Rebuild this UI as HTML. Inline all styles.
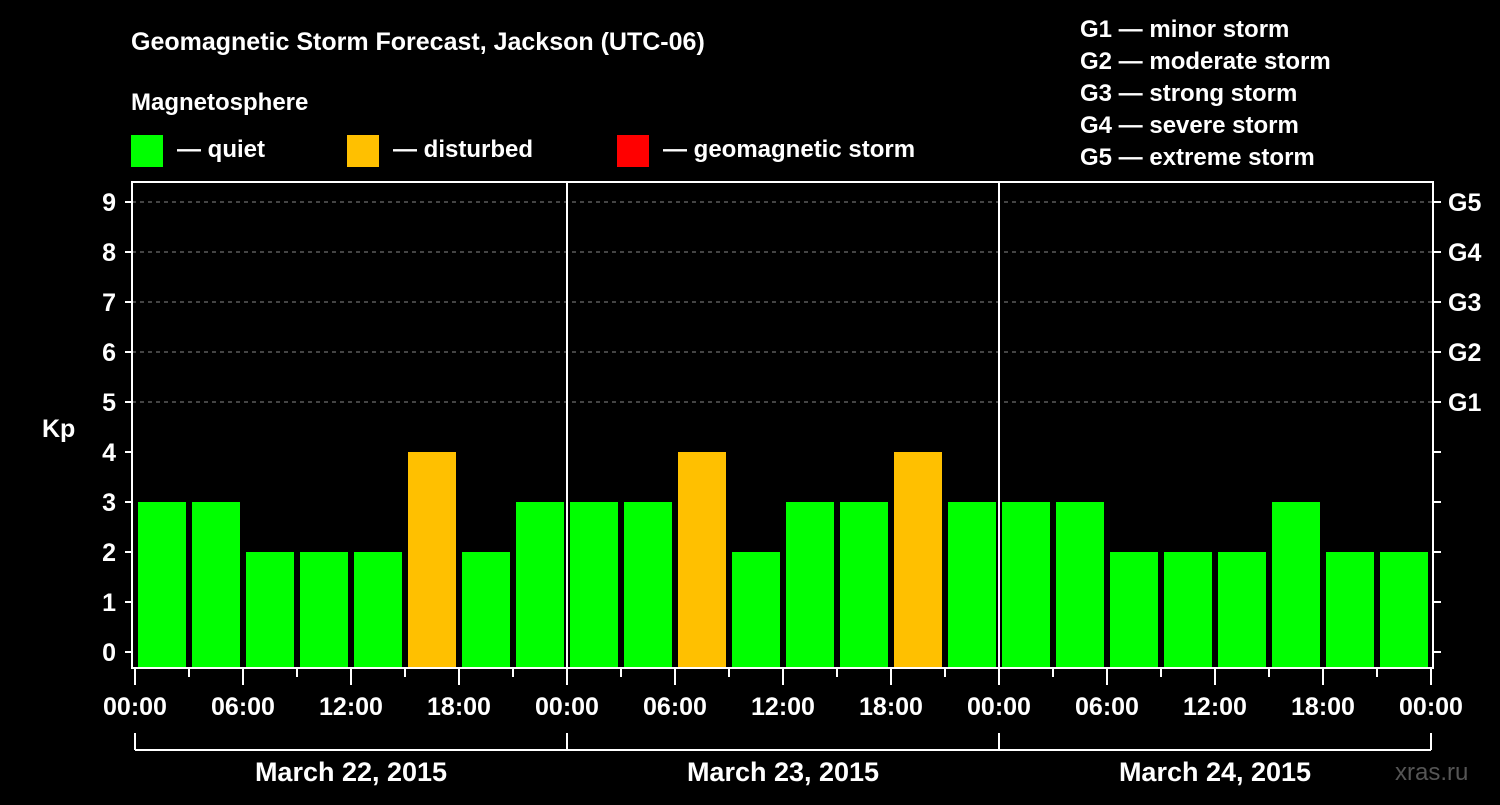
<!DOCTYPE html>
<html><head><meta charset="utf-8"><style>
body{margin:0;background:#000;width:1500px;height:800px;overflow:hidden}
svg text{font-family:"Liberation Sans",sans-serif;font-weight:bold;fill:#fff}
</style></head><body>
<svg id="chart" width="1500" height="800" viewBox="0 0 1500 800">
<rect width="1500" height="800" fill="#000"/>
<text x="131" y="50" font-size="25">Geomagnetic Storm Forecast, Jackson (UTC-06)</text>
<text x="131" y="110" font-size="24">Magnetosphere</text>
<rect x="131" y="135" width="32" height="32" fill="#00ff00"/>
<text x="177" y="157" font-size="24">— quiet</text>
<rect x="347" y="135" width="32" height="32" fill="#ffc000"/>
<text x="393" y="157" font-size="24">— disturbed</text>
<rect x="617" y="135" width="32" height="32" fill="#ff0000"/>
<text x="663" y="157" font-size="24">— geomagnetic storm</text>
<g font-size="24">
<text x="1080" y="37">G1 — minor storm</text>
<text x="1080" y="69">G2 — moderate storm</text>
<text x="1080" y="101">G3 — strong storm</text>
<text x="1080" y="133">G4 — severe storm</text>
<text x="1080" y="165">G5 — extreme storm</text>
</g>
<text x="42" y="437" font-size="25">Kp</text>
<text x="1395" y="780" font-size="24" style="fill:#555;font-weight:normal">xras.ru</text>
<g id="plot"></g>
</svg>
<script>
const kpValues = [3,3,2,2,2,4,2,3, 3,3,4,2,3,3,4,3, 3,3,2,2,2,3,2,2];
const dayLabels = ["March 22, 2015","March 23, 2015","March 24, 2015"];
const hourLabels = ["00:00","06:00","12:00","18:00"];
const yTicks = [0,1,2,3,4,5,6,7,8,9];
const gLabels = ["G1","G2","G3","G4","G5"];

const NS="http://www.w3.org/2000/svg";
const g=document.getElementById('plot');
const X0=135, PX3=54, Y0=652, PY=50, TOP=182, BOT=668, LEFT=132, RIGHT=1433;
const xs=h=>X0+h/3*PX3;
const ys=v=>Y0-v*PY;
function mk(t,a){const e=document.createElementNS(NS,t);for(const k in a)e.setAttribute(k,a[k]);g.appendChild(e);return e;}
// grid
for(let v=5;v<=9;v++){
 const l=mk('line',{x1:LEFT,x2:RIGHT,y1:ys(v),y2:ys(v),stroke:'#888','stroke-dasharray':'4,4','stroke-width':1});
 
 
}
// bars
kpValues.forEach((v,i)=>{
 const r=mk('rect',{x:xs(i*3)+3,y:ys(v),width:48,height:BOT-1-ys(v),fill:v>=5?'#ff0000':(v>=4?'#ffc000':'#00ff00')});
 
 
});
// frame
const f=mk('rect',{x:LEFT,y:TOP,width:RIGHT-LEFT,height:BOT-TOP,fill:'none',stroke:'#fff','stroke-width':2});


// day separators
for(let d=1;d<dayLabels.length;d++){
 const l=mk('line',{x1:xs(d*24),x2:xs(d*24),y1:TOP,y2:BOT,stroke:'#fff','stroke-width':2});
 
 
}
// y ticks
yTicks.forEach(v=>{
 const y=ys(v);
 const t=mk('line',{x1:LEFT-7,x2:LEFT,y1:y,y2:y,stroke:'#fff','stroke-width':2});
 
 
 const t2=mk('line',{x1:RIGHT,x2:RIGHT+8,y1:y,y2:y,stroke:'#fff','stroke-width':2});
 
 
 const tx=mk('text',{x:116,y:y+9,'text-anchor':'end','font-size':25});
 tx.textContent=v;
 
 
});
gLabels.forEach((s,i)=>{
 const tx=mk('text',{x:1448,y:ys(5+i)+9,'font-size':25});
 tx.textContent=s;
 
 
});
// x ticks
const nH=dayLabels.length*24;
for(let h=0;h<=nH;h+=3){
 const major=h%6===0;
 const t=mk('line',{x1:xs(h),x2:xs(h),y1:BOT,y2:BOT+(major?17:9),stroke:'#fff','stroke-width':2});
 
 
 if(major){
  const tx=mk('text',{x:xs(h),y:715,'text-anchor':'middle','font-size':25});
  tx.textContent=hourLabels[(h%24)/6];
  
  
 }
}
// day brackets
const br=mk('line',{x1:xs(0),x2:xs(nH),y1:750,y2:750,stroke:'#fff','stroke-width':2});


for(let d=0;d<=dayLabels.length;d++){
 const l=mk('line',{x1:xs(d*24),x2:xs(d*24),y1:733,y2:750,stroke:'#fff','stroke-width':2});
 
 
}
dayLabels.forEach((s,d)=>{
 const tx=mk('text',{x:xs(d*24+12),y:781,'text-anchor':'middle','font-size':27});
 tx.textContent=s;
 
 
});
</script>
</body></html>
